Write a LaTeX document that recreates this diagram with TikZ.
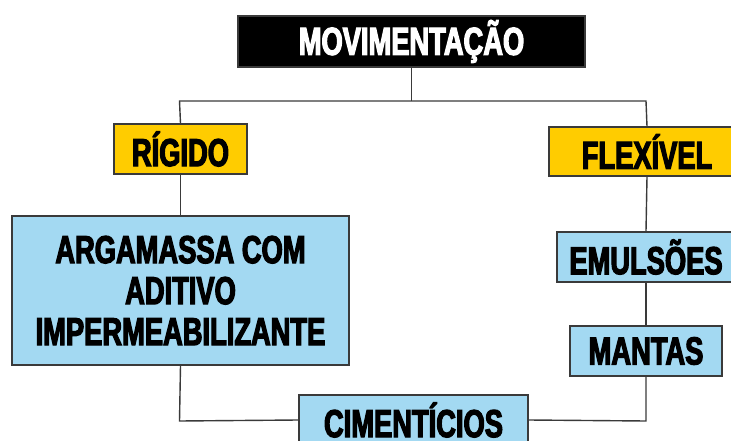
\documentclass[tikz,border=0pt]{standalone}
\usepackage{fontspec}
\newfontfamily\condfont[FakeStretch=0.70,FakeBold=3]{Liberation Sans Bold}
\definecolor{boxyellow}{HTML}{FFCC00}
\definecolor{boxblue}{HTML}{A3D9F2}
\definecolor{linegray}{HTML}{3A3A3A}
\begin{document}
\begin{tikzpicture}[x=1pt,y=-1pt,
  every node/.style={font=\condfont\fontsize{39}{41}\selectfont, inner sep=0pt, align=center},
  bx/.style={draw=linegray, line width=1.4pt},
  titlebox/.style={bx, fill=black, text=white},
  catbox/.style={bx, fill=boxyellow, text=black},
  itembox/.style={bx, fill=boxblue, text=black},
  conn/.style={draw=linegray, line width=1.4pt}]
\useasboundingbox (0,0) rectangle (731,441);
\node[titlebox, minimum width=347pt, minimum height=51pt] (mov) at (411.5,41.5) {MOVIMENTAÇÃO};
\node[catbox, minimum width=133pt, minimum height=50pt] (rig) at (180.5,149) {RÍGIDO};
\node[catbox, minimum width=196pt, minimum height=49pt] (flex) at (647,151.5) {FLEXÍVEL};
\node[itembox, minimum width=178pt, minimum height=50pt] (emu) at (646,257) {EMULSÕES};
\node[itembox, minimum width=337pt, minimum height=149pt] (arg) at (180.5,290.5) {ARGAMASSA COM\\ADITIVO\\IMPERMEABILIZANTE};
\node[itembox, minimum width=229pt, minimum height=50pt] (cim) at (413.5,420) {CIMENTÍCIOS};
\node[itembox, minimum width=152pt, minimum height=50pt] (man) at (646,351) {MANTAS};
\coordinate (hl) at (179.5,101);
\coordinate (hr) at (646,101);
\coordinate (bl) at (179.5,421);
\coordinate (br) at (646,421);
\draw[conn] (mov.south) -- (mov.south |- hl);
\draw[conn] (rig.north) -- (hl) -- (hr) -- (flex.north);
\draw[conn] (rig.south) -- (arg.north);
\draw[conn] (flex.south) -- (emu.north);
\draw[conn] (emu.south) -- (man.north);
\draw[conn] (arg.south) -- (bl) -- (cim.west);
\draw[conn] (cim.east) -- (br) -- (man.south);
\end{tikzpicture}
\end{document}
